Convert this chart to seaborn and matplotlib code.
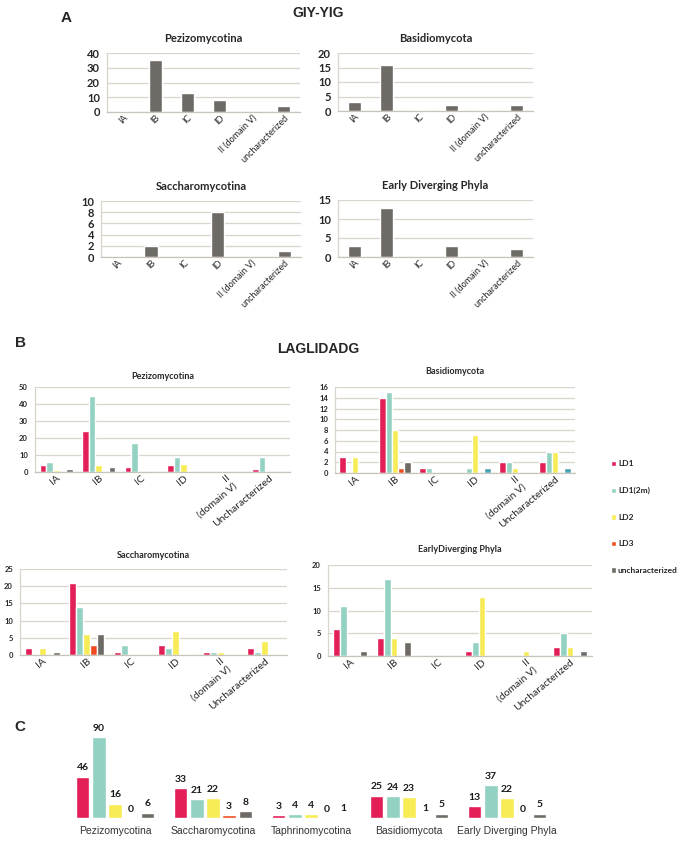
import numpy as np
import pandas as pd
import matplotlib
matplotlib.use("Agg")
import matplotlib.pyplot as plt
import seaborn as sns

sns.set_theme(style="white")
plt.rcParams['font.family'] = ['Lato', 'DejaVu Sans']

# ---------------- data ----------------
a_cats = ["IA", "IB", "IC", "ID", "II (domain V)", "uncharacterized"]
a_pez = [1, 35, 13, 8, 0, 4]
a_bas = [3, 16, 0, 2, 0, 2]
a_sac = [0, 2, 0, 8, 0, 1]
a_edp = [3, 13, 0, 3, 0, 2]

b_cats = ["IA", "IB", "IC", "ID", "II\n(domain V)", "Uncharacterized"]
series = ["LD1", "LD1(2m)", "LD2", "LD3", "uncharacterized"]
# rows: categories, columns: series
b_pez = [[4, 6, 1, 0, 2], [24, 45, 4, 0, 3], [3, 17, 0, 0, 0],
         [4, 9, 5, 0, 0], [0, 0, 0, 0, 0], [2, 9, 0, 0, 0]]
b_bas = [[3, 0, 3, 0, 0], [14, 15, 8, 1, 2], [1, 1, 0, 0, 0],
         [0, 1, 7, 0, 1], [2, 2, 1, 0, 0], [2, 4, 4, 0, 1]]
b_sac = [[2, 0, 2, 0, 1], [21, 14, 6, 3, 6], [1, 3, 0, 0, 0],
         [3, 2, 7, 0, 0], [1, 1, 1, 0, 0], [2, 1, 4, 0, 0]]
b_edp = [[6, 11, 0, 0, 1], [4, 17, 4, 0, 3], [0, 0, 0, 0, 0],
         [1, 3, 13, 0, 0], [0, 0, 1, 0, 0], [2, 5, 2, 0, 1]]

c_groups = ["Pezizomycotina", "Saccharomycotina", "Taphrinomycotina",
            "Basidiomycota", "Early Diverging Phyla"]
c_vals = [[46, 90, 16, 0, 6], [33, 21, 22, 3, 8], [3, 4, 4, 0, 1],
          [25, 24, 23, 1, 5], [13, 37, 22, 0, 5]]

colors = ["#e21f56", "#93d2c3", "#f7ec55", "#ee4b1f", "#6e6b66"]
alt_teal = "#4aa3b6"
gray_bar = "#6e6b66"
grid_c = "#d9d4cc"

W, H = 680, 842
fig = plt.figure(figsize=(W / 100, H / 100), dpi=100)
fig.patch.set_facecolor("white")


def ax_px(l, t, r, b):
    return fig.add_axes([l / W, 1 - b / H, (r - l) / W, (b - t) / H])


def style_axes(ax, n, ymax, ystep, ytick_fs, xtick_fs, rot):
    ax.set_ylim(0, ymax)
    ax.set_yticks(np.arange(0, ymax + 0.01, ystep))
    ax.set_xlim(-0.5, n - 0.5)
    ax.yaxis.grid(True, color=grid_c, lw=0.9)
    ax.set_axisbelow(True)
    for s in ["top", "right"]:
        ax.spines[s].set_visible(False)
    ax.spines["left"].set_color(grid_c)
    ax.spines["bottom"].set_color("#c8c3bb")
    ax.spines["left"].set_linewidth(0.9)
    ax.spines["bottom"].set_linewidth(0.9)
    ax.tick_params(axis="y", length=3, color=grid_c, labelsize=ytick_fs, pad=2)
    for lab in ax.get_yticklabels():
        lab.set_fontweight("bold")
    ax.set_xticks(np.arange(-0.5, n), minor=True)
    ax.tick_params(axis="x", which="minor", length=3, color="#b5b0a8", direction="out")
    ax.tick_params(axis="x", which="major", length=0, labelsize=xtick_fs, pad=1)
    for lab in ax.get_xticklabels():
        lab.set_rotation(rot)
        lab.set_ha("right")
        lab.set_rotation_mode("anchor")
    ax.set_xlabel("")
    ax.set_ylabel("")


# ---------------- Panel A ----------------
fig.text(66 / W, 1 - 18 / H, "A", fontsize=11, fontweight="bold",
         family="Liberation Sans", ha="center", va="center")
fig.text(318 / W, 1 - 13 / H, "GIY-YIG", fontsize=10, fontweight="bold",
         family="Liberation Sans", ha="center", va="center")

a_specs = [
    ("Pezizomycotina", a_pez, (107, 53, 300, 112), 40, 10),
    ("Basidiomycota", a_bas, (338, 53, 533, 111), 20, 5),
    ("Saccharomycotina", a_sac, (101, 201, 301, 257), 10, 2),
    ("Early Diverging Phyla", a_edp, (338, 200, 533, 257), 15, 5),
]
for title, vals, box, ymax, ystep in a_specs:
    ax = ax_px(*box)
    df = pd.DataFrame({"cat": a_cats, "val": vals})
    sns.barplot(data=df, x="cat", y="val", color=gray_bar, width=0.4,
                saturation=1, ax=ax)
    style_axes(ax, len(a_cats), ymax, ystep, 8, 6.5, 45)
    ax.set_title(title, fontsize=8, fontweight="bold", pad=8)

# ---------------- Panel B ----------------
fig.text(20 / W, 1 - 343 / H, "B", fontsize=11, fontweight="bold",
         family="Liberation Sans", ha="center", va="center")
fig.text(318 / W, 1 - 349 / H, "LAGLIDADG", fontsize=10, fontweight="bold",
         family="Liberation Sans", ha="center", va="center")

b_specs = [
    ("Pezizomycotina", b_pez, (35, 387, 290, 472), 50, 10, 6),
    ("Basidiomycota", b_bas, (335, 387, 575, 473), 16, 2, 9),
    ("Saccharomycotina", b_sac, (20, 569, 287, 655), 25, 5, 8),
    ("EarlyDiverging Phyla", b_edp, (328, 565, 592, 656), 20, 5, 9),
]
legend_handles = None
for title, mat, box, ymax, ystep, tpad in b_specs:
    ax = ax_px(*box)
    rows = []
    for ci, cat in enumerate(b_cats):
        for si, s in enumerate(series):
            rows.append({"cat": cat, "series": s, "val": mat[ci][si]})
    df = pd.DataFrame(rows)
    sns.barplot(data=df, x="cat", y="val", hue="series", hue_order=series,
                order=b_cats, palette=colors, width=0.78, saturation=1,
                ax=ax, legend=True)
    if title == "Basidiomycota":
        cont = ax.containers[4]
        for idx in (3, 5):
            cont[idx].set_facecolor(alt_teal)
    h, l = ax.get_legend_handles_labels()
    if legend_handles is None:
        legend_handles = (h, l)
    ax.get_legend().remove()
    style_axes(ax, len(b_cats), ymax, ystep, 5.5, 7.5, 40)
    ax.set_title(title, fontsize=6.5, fontweight="bold", pad=tpad)

leg = fig.legend(legend_handles[0], legend_handles[1],
                 loc="upper left", bbox_to_anchor=(603 / W, 1 - 453 / H),
                 frameon=False, handlelength=0.6, handleheight=0.6,
                 handletextpad=0.3, labelspacing=2.35,
                 prop={"size": 6, "weight": "bold", "family": "Lato"})

# ---------------- Panel C ----------------
fig.text(20 / W, 1 - 727 / H, "C", fontsize=11, fontweight="bold",
         family="Liberation Sans", ha="center", va="center")

axc = ax_px(66, 728, 556, 818)
rows = []
for gi, g in enumerate(c_groups):
    for si, s in enumerate(series):
        rows.append({"group": g, "series": s, "val": c_vals[gi][si]})
dfc = pd.DataFrame(rows)
sns.barplot(data=dfc, x="group", y="val", hue="series", hue_order=series,
            order=c_groups, palette=colors, width=0.82, gap=0.18,
            saturation=1, ax=axc, legend=False)
axc.set_ylim(0, 100)
for cont in axc.containers:
    axc.bar_label(cont, fmt="%d", padding=3, fontsize=7.5, fontweight="bold",
                  color="#1a1a1a")
sns.despine(ax=axc, left=True, bottom=True)
axc.set_yticks([])
axc.set_xlabel("")
axc.set_ylabel("")
axc.tick_params(axis="x", length=0, labelsize=7.5, pad=6)
for lab in axc.get_xticklabels():
    lab.set_family("Liberation Sans")
    lab.set_color("#333333")

fig.savefig("out.png", dpi=100, facecolor="white")
